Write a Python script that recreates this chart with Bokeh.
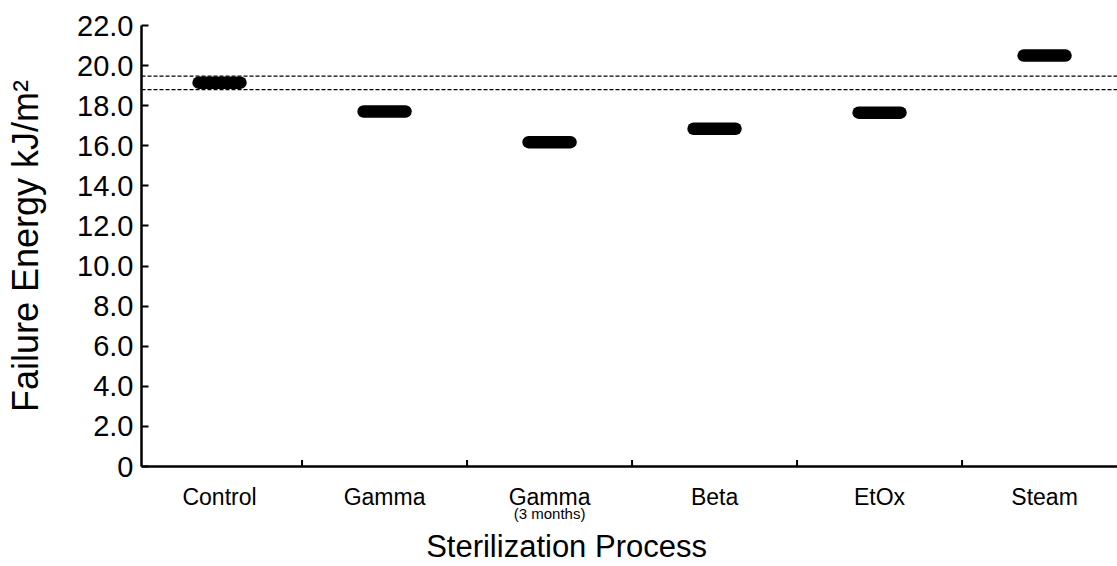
from bokeh.plotting import figure
from bokeh.models import Range1d, FixedTicker, Span, LinearAxis, ColumnDataSource
from bokeh.embed import file_html
from bokeh.resources import INLINE

categories = ["Control", "Gamma", "Gamma", "Beta", "EtOx", "Steam"]
sublabels = ["", "", "(3 months)", "", "", ""]
failure_energy = [19.15, 17.71, 16.18, 16.85, 17.65, 20.5]
reference_lines = [19.47, 18.8]
y_ticks = [0, 2, 4, 6, 8, 10, 12, 14, 16, 18, 20, 22]
x_title = "Sterilization Process"
y_title = "Failure Energy kJ/m²"

FONT = "Liberation Sans"
xs = list(range(len(categories)))
half = 0.127

p = figure(width=1117, height=566, output_backend="svg", toolbar_location=None,
           x_range=Range1d(-0.473, 5.442), y_range=Range1d(0, 22))
p.min_border_left = 141
p.min_border_right = 0
p.min_border_top = 25
p.min_border_bottom = 99
p.outline_line_color = None
p.grid.visible = False
p.background_fill_color = "white"
p.border_fill_color = "white"

src = ColumnDataSource(dict(x0=[x - half for x in xs], x1=[x + half for x in xs], y=failure_energy))
p.segment(x0="x0", y0="y", x1="x1", y1="y", source=src, line_color="black",
          line_width=12.5, line_cap="round")

for v in reference_lines:
    p.add_layout(Span(location=v, dimension="width", line_color="black",
                      line_width=1.2, line_dash="4 2"))

# boundary ticks along the x axis, pointing up
bx = [x + 0.5 for x in xs[:-1]]
p.segment(x0=bx, y0=[0] * len(bx), x1=bx, y1=[0.32] * len(bx), line_color="black", line_width=2)


def plain_axis(ax):
    ax.major_tick_in = 0
    ax.major_tick_out = 0
    ax.minor_tick_in = 0
    ax.minor_tick_out = 0
    ax.major_label_text_font = FONT
    ax.major_label_text_color = "black"


# y axis
ya = p.yaxis[0]
ya.ticker = FixedTicker(ticks=y_ticks)
ya.major_label_overrides = {t: ("0" if t == 0 else f"{t:.1f}") for t in y_ticks}
plain_axis(ya)
ya.major_tick_in = 7
ya.major_tick_line_width = 2
ya.axis_line_width = 2.5
ya.major_label_text_font_size = "29px"
ya.major_label_standoff = 8
ya.axis_label = y_title
ya.axis_label_text_font = FONT
ya.axis_label_text_font_size = "36px"
ya.axis_label_text_font_style = "normal"
ya.axis_label_text_color = "black"
ya.axis_label_standoff = 28

# x axis: category names
xa = p.xaxis[0]
xa.ticker = FixedTicker(ticks=xs)
xa.major_label_overrides = {x: c for x, c in zip(xs, categories)}
plain_axis(xa)
xa.axis_line_width = 2.5
xa.major_label_text_font_size = "23px"
xa.major_label_standoff = 17

# second row: sub labels
sub_x = [x for x, s in zip(xs, sublabels) if s]
xa2 = LinearAxis(ticker=FixedTicker(ticks=sub_x),
                 major_label_overrides={x: s for x, s in zip(xs, sublabels) if s})
plain_axis(xa2)
xa2.axis_line_color = None
xa2.major_label_text_font_size = "15px"
xa2.major_label_standoff = -8
p.add_layout(xa2, "below")

# third row: axis title
title_x = 2.103
xa3 = LinearAxis(ticker=FixedTicker(ticks=[title_x]),
                 major_label_overrides={title_x: x_title})
plain_axis(xa3)
xa3.axis_line_color = None
xa3.major_label_text_font_size = "31px"
xa3.major_label_standoff = 4
p.add_layout(xa3, "below")

open("out.html", "w").write(file_html(p, INLINE))
